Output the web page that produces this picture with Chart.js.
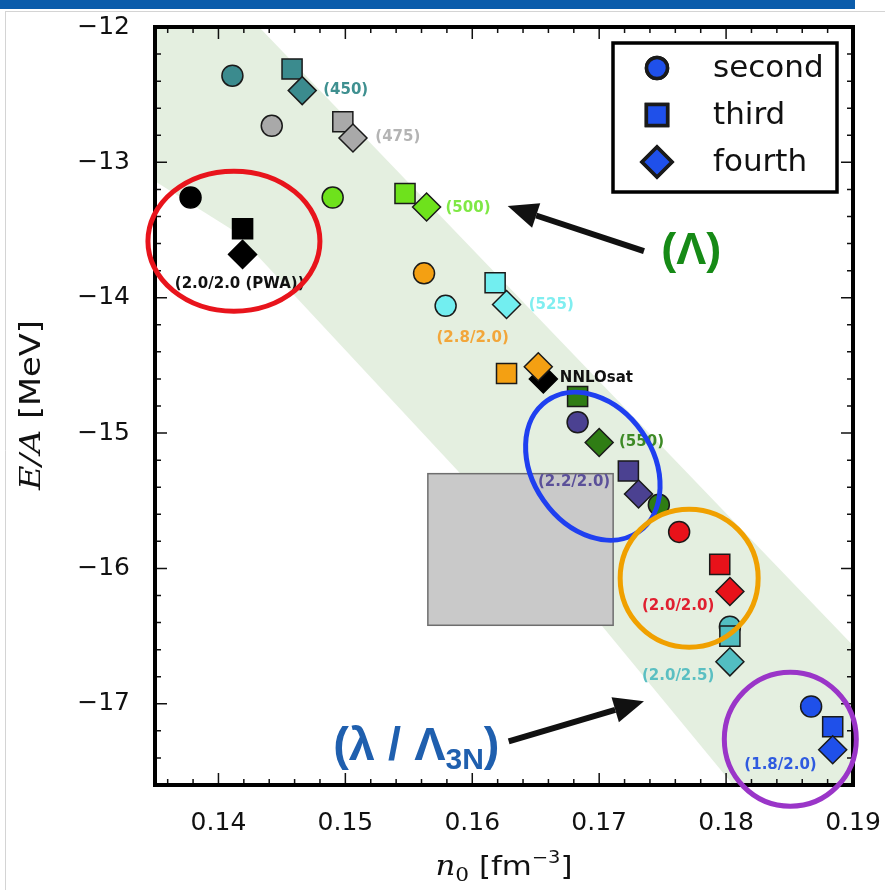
<!DOCTYPE html>
<html>
<head>
<meta charset="utf-8">
<script src="https://cdn.jsdelivr.net/npm/chart.js@4.4.1/dist/chart.umd.min.js"></script>
<style>
  html, body { margin: 0; padding: 0; background: #fff; }
  #wrap { width: 885px; height: 890px; }
</style>
</head>
<body>
<div id="wrap"><canvas id="chart" width="885" height="890"></canvas></div>
<script>
// tick labels
const xTicks = [0.14, 0.15, 0.16, 0.17, 0.18, 0.19];
const yTicks = [-17, -16, -15, -14, -13, -12];

// order of the expansion: second, third, fourth
const orders = ["second", "third", "fourth"];

// saturation density n0 and E/A for each interaction (second, third, fourth)
const n450 = [0.1411, 0.1458, 0.1466];
const e450 = [-12.36, -12.31, -12.47];
const n475 = [0.1442, 0.1498, 0.1506];
const e475 = [-12.73, -12.70, -12.82];
const n500 = [0.1490, 0.1547, 0.1564];
const e500 = [-13.26, -13.23, -13.33];
const nPWA = [0.1378, 0.1419, 0.1419];
const ePWA = [-13.26, -13.49, -13.68];
const n525 = [0.1579, 0.1618, 0.1627];
const e525 = [-14.06, -13.89, -14.05];
const n2820 = [0.1562, 0.1627, 0.1652];
const e2820 = [-13.82, -14.56, -14.51];
const nSat = [0.1656];
const eSat = [-14.60];
const n550 = [0.1747, 0.1683, 0.1700];
const e550 = [-15.53, -14.73, -15.07];
const n2220 = [0.1683, 0.1723, 0.1731];
const e2220 = [-14.92, -15.28, -15.45];
const n2020 = [0.1763, 0.1795, 0.1803];
const e2020 = [-15.73, -15.97, -16.17];
const n2025 = [0.1803, 0.1803, 0.1803];
const e2025 = [-16.43, -16.50, -16.69];
const n1820 = [0.1867, 0.1884, 0.1884];
const e1820 = [-17.02, -17.17, -17.34];

// empirical saturation box and green band (upper and lower edges)
const boxN = [0.1565, 0.1711];
const boxE = [-16.42, -15.30];
const bandUpperN = [0.135, 0.190];
const bandUpperE = [-11.20, -16.57];
const bandLowerN = [0.135, 0.1413, 0.1701, 0.1802, 0.190];
const bandLowerE = [-13.14, -13.51, -16.41, -17.56, -18.68];

// text labels next to the points
const labelText = ["(450)", "(475)", "(500)", "(525)", "(2.8/2.0)", "NNLOsat", "(550)",
  "(2.2/2.0)", "(2.0/2.0)", "(2.0/2.5)", "(1.8/2.0)", "(2.0/2.0 (PWA))"];
const labelN = [0.14825, 0.15236, 0.15789, 0.16445, 0.15718, 0.16690, 0.17156,
  0.16517, 0.17337, 0.17337, 0.18144, 0.13656];
const labelE = [-12.466, -12.813, -13.338, -14.055, -14.299, -14.594, -15.067,
  -15.363, -16.279, -16.797, -17.455, -13.90];
const labelColor = ["#3f9090", "#b4b4b4", "#7fe845", "#80eef0", "#f2a63a", "#111111", "#3d8a25",
  "#5b5099", "#e02030", "#5abfc2", "#2f5be0", "#111111"];

const styleOf = { second: "circle", third: "rect", fourth: "rectRot" };
const sizeOf = { circle: 10.5, rect: 14.2, rectRot: 14 };

function mkSet(name, n, e, fill, styles) {
  styles = styles || orders.map(o => styleOf[o]);
  return {
    label: name,
    data: n.map((v, i) => ({ x: v, y: e[i] })),
    pointStyle: styles,
    pointRadius: styles.map(s => sizeOf[s]),
    pointHoverRadius: styles.map(s => sizeOf[s]),
    backgroundColor: fill,
    borderColor: fill === "#000000" ? "#000000" : "#1a1a1a",
    borderWidth: 1.5,
    showLine: false
  };
}

const datasets = [
  mkSet("(450)", n450, e450, "#3b8b8e"),
  mkSet("(475)", n475, e475, "#a9a9a9"),
  mkSet("(500)", n500, e500, "#6ee21c"),
  mkSet("PWA", nPWA, ePWA, "#000000"),
  mkSet("(525)", n525, e525, "#72eef0"),
  mkSet("(2.8/2.0)", n2820, e2820, "#f4a012"),
  mkSet("NNLOsat", nSat, eSat, "#000000", ["rectRot"]),
  mkSet("(550)", n550, e550, "#2f7d14"),
  mkSet("(2.2/2.0)", n2220, e2220, "#4b4191"),
  mkSet("(2.0/2.0)", n2020, e2020, "#e8121a"),
  mkSet("(2.0/2.5)", n2025, e2025, "#52bec2"),
  mkSet("(1.8/2.0)", n1820, e1820, "#1f50ea")
];

// hand drawn annotations on the slide (data coords for anchors)
const rings = [
  { n: 0.14122, e: -13.582, rx: 86, ry: 70, rot: 0, color: "#e8141c" },
  { n: 0.16950, e: -15.245, rx: 80, ry: 60, rot: 0.96, color: "#1f3ff0" },
  { n: 0.17709, e: -16.072, rx: 69, ry: 69, rot: 0, color: "#f0a000" },
  { n: 0.18506, e: -17.262, rx: 66, ry: 67, rot: 0, color: "#9a35c8" }
];
const arrows = [
  { n0: 0.17353, e0: -13.656, n1: 0.16279, e1: -13.323 },
  { n0: 0.16287, e0: -17.277, n1: 0.17353, e1: -16.982 }
];

// background: header bar, band, box
const backPlugin = {
  id: "back",
  beforeDraw(chart) {
    const ctx = chart.ctx;
    ctx.save();
    ctx.fillStyle = "#fff";
    ctx.fillRect(0, 0, chart.width, chart.height);
    ctx.fillStyle = "#0b5cab";
    ctx.fillRect(0, 0, 855, 9);
    ctx.strokeStyle = "#d4d4d4";
    ctx.lineWidth = 1;
    ctx.beginPath();
    ctx.moveTo(5, 11.5); ctx.lineTo(885, 11.5);
    ctx.moveTo(5.5, 11); ctx.lineTo(5.5, 890);
    ctx.stroke();
    ctx.restore();
  },
  beforeDatasetsDraw(chart) {
    const { ctx, chartArea: a, scales: { x, y } } = chart;
    ctx.save();
    ctx.beginPath();
    ctx.rect(a.left, a.top, a.right - a.left, a.bottom - a.top);
    ctx.clip();
    ctx.fillStyle = "#e4efe0";
    ctx.beginPath();
    bandUpperN.forEach((n, i) => ctx.lineTo(x.getPixelForValue(n), y.getPixelForValue(bandUpperE[i])));
    for (let i = bandLowerN.length - 1; i >= 0; i--) {
      ctx.lineTo(x.getPixelForValue(bandLowerN[i]), y.getPixelForValue(bandLowerE[i]));
    }
    ctx.closePath();
    ctx.fill();
    const bx0 = x.getPixelForValue(boxN[0]), bx1 = x.getPixelForValue(boxN[1]);
    const by0 = y.getPixelForValue(boxE[1]), by1 = y.getPixelForValue(boxE[0]);
    ctx.fillStyle = "#c9c9c9";
    ctx.fillRect(bx0, by0, bx1 - bx0, by1 - by0);
    ctx.strokeStyle = "#6e6e6e";
    ctx.lineWidth = 1.5;
    ctx.strokeRect(bx0, by0, bx1 - bx0, by1 - by0);
    ctx.restore();
  }
};

// frame, inward ticks, point labels, legend, annotations, axis titles
const frontPlugin = {
  id: "front",
  afterDatasetsDraw(chart) {
    const { ctx, chartArea: a, scales: { x, y } } = chart;
    ctx.save();
    // point labels
    ctx.font = "bold 15px 'DejaVu Sans'";
    ctx.textAlign = "left";
    ctx.textBaseline = "middle";
    labelText.forEach((t, i) => {
      ctx.fillStyle = labelColor[i];
      ctx.fillText(t, x.getPixelForValue(labelN[i]), y.getPixelForValue(labelE[i]));
    });
    // ticks
    ctx.strokeStyle = "#111";
    ctx.lineWidth = 1.5;
    ctx.beginPath();
    for (let k = 68; k <= 95; k++) {
      const px = x.getPixelForValue(k * 0.002);
      const len = k % 5 === 0 ? 12 : 6;
      ctx.moveTo(px, a.bottom); ctx.lineTo(px, a.bottom - len);
      ctx.moveTo(px, a.top); ctx.lineTo(px, a.top + len);
    }
    for (let k = -88; k <= -60; k++) {
      const py = y.getPixelForValue(k * 0.2);
      const len = k % 5 === 0 ? 12 : 6;
      ctx.moveTo(a.left, py); ctx.lineTo(a.left + len, py);
      ctx.moveTo(a.right, py); ctx.lineTo(a.right - len, py);
    }
    ctx.stroke();
    // frame
    ctx.lineWidth = 4;
    ctx.strokeStyle = "#000";
    ctx.strokeRect(a.left, a.top, a.right - a.left, a.bottom - a.top);

    // legend
    const lx = a.right - 240, ly = a.top + 16, lw = 224, lh = 149;
    ctx.fillStyle = "#fff";
    ctx.fillRect(lx, ly, lw, lh);
    ctx.lineWidth = 3.5;
    ctx.strokeRect(lx, ly, lw, lh);
    orders.forEach((o, i) => {
      const cy = ly + 25 + i * 47;
      const st = styleOf[o];
      Chart.helpers.drawPoint(ctx, {
        pointStyle: st, radius: st === "circle" ? 10.5 : 15,
        borderWidth: 1.5, rotation: 0
      }, lx + 44, cy);
      ctx.fillStyle = "#1f50ea";
      ctx.strokeStyle = "#1a1a1a";
      ctx.fill();
      ctx.stroke();
      ctx.fillStyle = "#111";
      ctx.font = "31px 'DejaVu Sans'";
      ctx.textBaseline = "middle";
      ctx.fillText(o, lx + 100, cy + 1);
    });
    ctx.restore();
  },
  afterDraw(chart) {
    const { ctx, scales: { x, y } } = chart;
    ctx.save();
    // rings
    rings.forEach(r => {
      ctx.strokeStyle = r.color;
      ctx.lineWidth = 5;
      ctx.beginPath();
      ctx.ellipse(x.getPixelForValue(r.n), y.getPixelForValue(r.e), r.rx, r.ry, r.rot, 0, Math.PI * 2);
      ctx.stroke();
    });
    // arrows
    arrows.forEach(ar => {
      const x0 = x.getPixelForValue(ar.n0), y0 = y.getPixelForValue(ar.e0);
      const x1 = x.getPixelForValue(ar.n1), y1 = y.getPixelForValue(ar.e1);
      const ang = Math.atan2(y1 - y0, x1 - x0);
      const hl = 30, hw = 13;
      const bxp = x1 - hl * Math.cos(ang), byp = y1 - hl * Math.sin(ang);
      ctx.strokeStyle = "#111";
      ctx.fillStyle = "#111";
      ctx.lineWidth = 6;
      ctx.beginPath();
      ctx.moveTo(x0, y0); ctx.lineTo(bxp, byp);
      ctx.stroke();
      ctx.beginPath();
      ctx.moveTo(x1, y1);
      ctx.lineTo(bxp + hw * Math.sin(ang), byp - hw * Math.cos(ang));
      ctx.lineTo(bxp - hw * Math.sin(ang), byp + hw * Math.cos(ang));
      ctx.closePath();
      ctx.fill();
    });
    // (Λ)
    ctx.fillStyle = "#168a16";
    ctx.font = "bold 45px 'Liberation Sans'";
    ctx.textAlign = "center";
    ctx.textBaseline = "alphabetic";
    ctx.fillText("(Λ)", x.getPixelForValue(0.17725), y.getPixelForValue(-13.641) + 15);
    // (λ / Λ3N)
    ctx.fillStyle = "#1f5fae";
    ctx.textAlign = "left";
    let tx = x.getPixelForValue(0.14904);
    const ty = y.getPixelForValue(-17.30) + 16;
    ctx.font = "bold 47px 'Liberation Sans'";
    ctx.fillText("(λ / Λ", tx, ty);
    tx += ctx.measureText("(λ / Λ").width;
    ctx.font = "bold 30px 'Liberation Sans'";
    ctx.fillText("3N", tx, ty + 9);
    tx += ctx.measureText("3N").width;
    ctx.font = "bold 47px 'Liberation Sans'";
    ctx.fillText(")", tx, ty);

    // axis titles
    drawTitle(ctx, 504, 866, 0, 137, [
      { t: "n", f: "italic 27px 'DejaVu Serif'", dy: 0 },
      { t: "0", f: "19px 'DejaVu Serif'", dy: 6 },
      { t: " [fm", f: "27px 'DejaVu Sans'", dy: 0 },
      { t: "−3", f: "17px 'DejaVu Sans'", dy: -12 },
      { t: "]", f: "27px 'DejaVu Sans'", dy: 0 }
    ]);
    drawTitle(ctx, 31, 405, -Math.PI / 2, 170, [
      { t: "E/A", f: "italic 28px 'DejaVu Serif'", dy: 0 },
      { t: " [MeV]", f: "28px 'DejaVu Sans'", dy: 0 }
    ]);
    ctx.restore();
  }
};

function drawTitle(ctx, cx, cy, rot, target, runs) {
  ctx.save();
  ctx.translate(cx, cy);
  ctx.rotate(rot);
  let w = 0;
  runs.forEach(r => { ctx.font = r.f; w += ctx.measureText(r.t).width; });
  ctx.scale(target / w, 1);
  ctx.fillStyle = "#111";
  ctx.textAlign = "left";
  ctx.textBaseline = "alphabetic";
  let px = -w / 2;
  runs.forEach(r => {
    ctx.font = r.f;
    ctx.fillText(r.t, px, 9 + r.dy);
    px += ctx.measureText(r.t).width;
  });
  ctx.restore();
}

new Chart(document.getElementById("chart"), {
  type: "scatter",
  data: { datasets: datasets },
  options: {
    responsive: false,
    animation: false,
    events: [],
    layout: { padding: { top: 27, right: 32, left: 0, bottom: 0 } },
    plugins: { legend: { display: false }, tooltip: { enabled: false } },
    scales: {
      x: {
        type: "linear",
        min: 0.135,
        max: 0.19,
        afterBuildTicks: s => { s.ticks = xTicks.map(v => ({ value: v })); },
        afterFit: s => { s.height = 105; s.paddingLeft = 0; s.paddingRight = 0; },
        grid: { display: false, drawTicks: false },
        border: { display: false },
        ticks: {
          padding: 23,
          color: "#111",
          font: { family: "DejaVu Sans", size: 25 },
          callback: v => v.toFixed(2)
        }
      },
      y: {
        type: "linear",
        min: -17.6,
        max: -12,
        afterBuildTicks: s => { s.ticks = yTicks.map(v => ({ value: v })); },
        afterFit: s => { s.width = 155; s.paddingTop = 0; s.paddingBottom = 0; },
        grid: { display: false, drawTicks: false },
        border: { display: false },
        ticks: {
          padding: 25,
          color: "#111",
          font: { family: "DejaVu Sans", size: 25 },
          callback: v => (v < 0 ? "−" : "") + Math.abs(v)
        }
      }
    }
  },
  plugins: [backPlugin, frontPlugin]
});
</script>
</body>
</html>
